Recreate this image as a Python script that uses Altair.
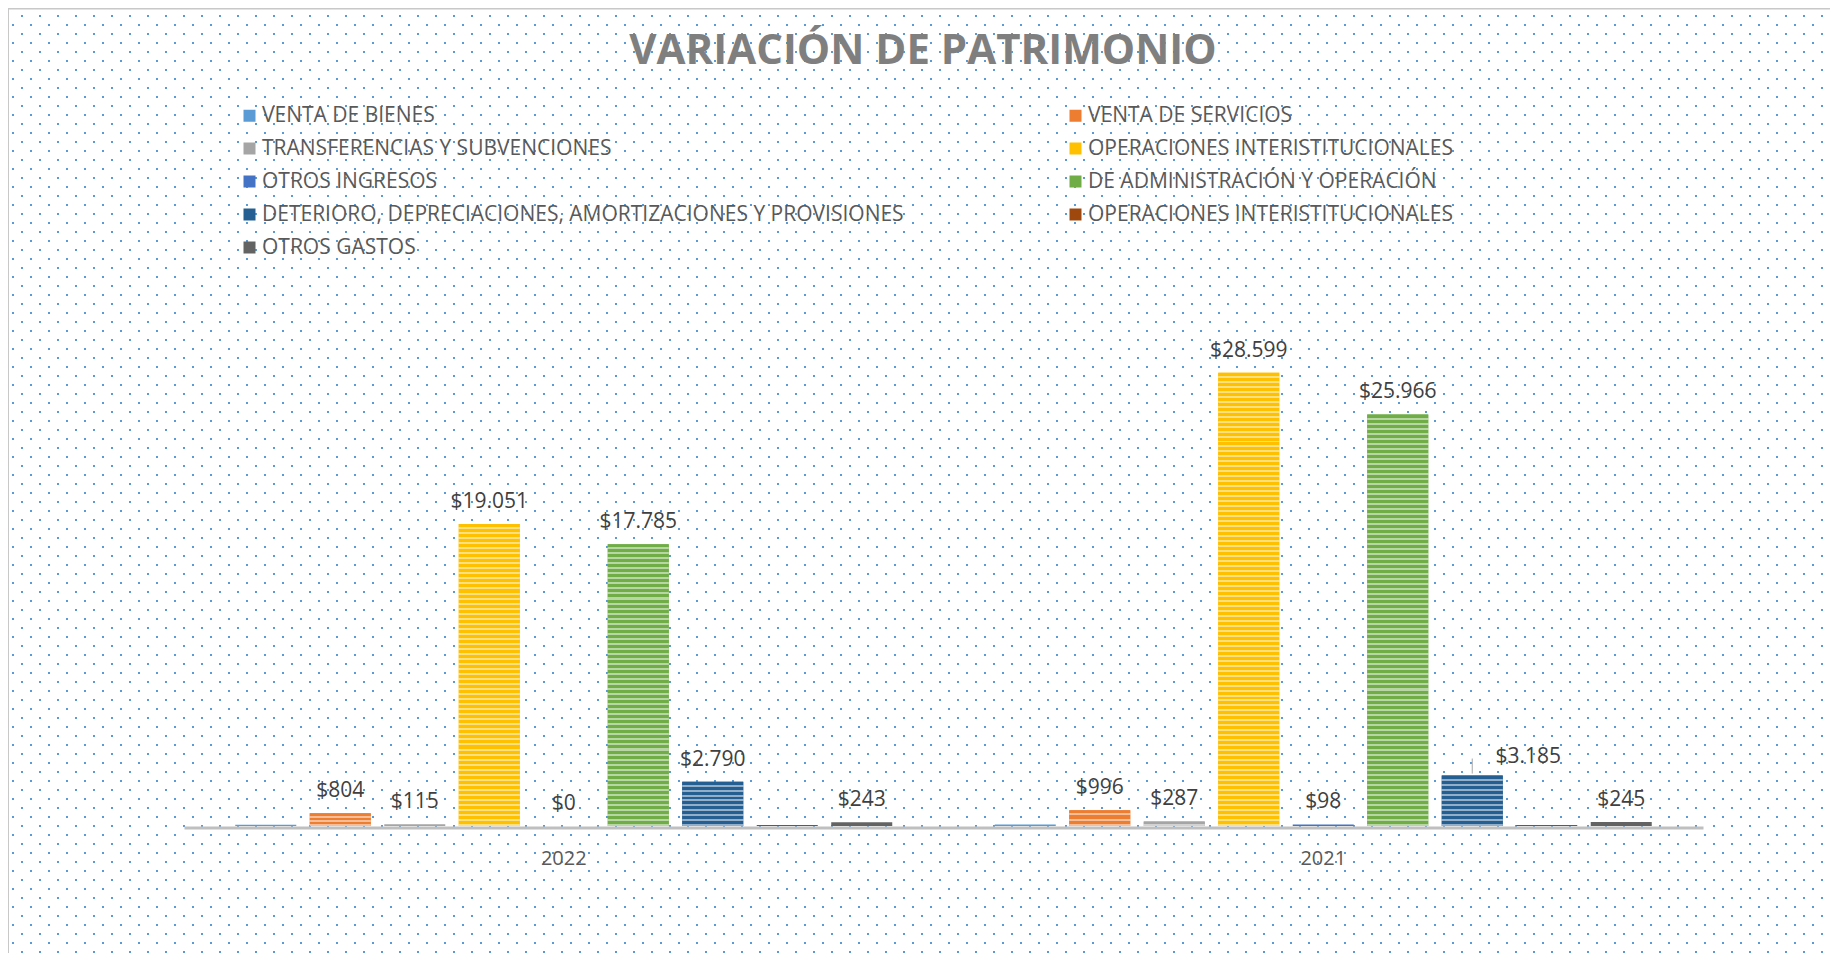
import altair as alt
import pandas as pd

# ---------------- data ----------------
years = ["2022", "2021"]
series = [
    "VENTA DE BIENES",
    "VENTA DE SERVICIOS",
    "TRANSFERENCIAS Y SUBVENCIONES",
    "OPERACIONES INTERISTITUCIONALES",
    "OTROS INGRESOS",
    "DE ADMINISTRACIÓN Y OPERACIÓN",
    "DETERIORO, DEPRECIACIONES, AMORTIZACIONES Y PROVISIONES",
    "OPERACIONES INTERISTITUCIONALES ",
    "OTROS GASTOS",
]
values_2022 = [85, 804, 115, 19051, 0, 17785, 2790, 70, 243]
values_2021 = [90, 996, 287, 28599, 98, 25966, 3185, 60, 245]
show_label = [False, True, True, True, True, True, True, False, True]
colors = ["#5B9BD5", "#ED7D31", "#A5A5A5", "#FFC000", "#4472C4",
          "#70AD47", "#255E91", "#9E480E", "#636363"]
title_text = "VARIACIÓN DE PATRIMONIO"

rows = []
for yr, vals in zip(years, [values_2022, values_2021]):
    for s, v, sl in zip(series, vals, show_label):
        rows.append({"year": yr, "series": s, "value": v,
                     "label": ("$" + f"{v:,}".replace(",", ".")) if sl else ""})
df = pd.DataFrame(rows)

W, H = 1822, 945
FONT = "Open Sans"
PX_PER_UNIT = 1 / 63.1          # vertical scale: pixels per value unit
Y0 = 818                        # pixel row of the zero line inside the view


def lighten(hex_color, t):
    r, g, b = (int(hex_color[i:i + 2], 16) for i in (1, 3, 5))
    r, g, b = (round(c + (255 - c) * t) for c in (r, g, b))
    return f"#{r:02x}{g:02x}{b:02x}"


def striped(base, height_px, pitch=5.0):
    light = lighten(base, 0.5)
    n = max(1, round(height_px / pitch))
    stops = []
    for i in range(n):
        a, b, c = i / n, (i + 0.6) / n, (i + 1) / n
        stops += [(a, base), (b, base), (b, light), (c, light)]
    return alt.LinearGradient(
        gradient="linear", x1=0, y1=0, x2=0, y2=1,
        stops=[alt.GradientStop(offset=o, color=col) for o, col in stops])


# ---------------- dotted background (axis grid) ----------------
bg_data = alt.Data(values=[{"u": 100, "v": 100}])
bg = alt.Chart(bg_data).mark_point(opacity=0, size=1).encode(
    x=alt.X("u:Q", scale=alt.Scale(domain=[0, W], range=[0, W], nice=False, zero=False),
            axis=alt.Axis(orient="top", labels=False, ticks=False, grid=False, title=None,
                          domain=True, domainColor="#C8C8C8", domainWidth=2)),
    y=alt.Y("v:Q", scale=alt.Scale(domain=[0, H], range=[0, H], nice=False, zero=False),
            axis=alt.Axis(orient="left", values=[8 + 9 * m for m in range(0, 105)],
                          labels=False, ticks=False, title=None,
                          domain=True, domainColor="#C8C8C8", domainWidth=2,
                          grid=True, gridColor="#5B9BD5", gridWidth=2, gridDash=[2, 16],
                          gridDashOffset={"condition": {"test": "datum.value % 18 == 8", "value": 5},
                                          "value": 14},
                          translate=0)),
)

title = alt.Chart(bg_data).mark_text(
    font=FONT, fontSize=42, fontWeight="bold", color="#7F7F7F",
    align="center", baseline="alphabetic"
).encode(x=alt.value(915), y=alt.value(56), text=alt.value(title_text))

# ---------------- bars ----------------
x_enc = alt.X("year:N", sort=years,
              scale=alt.Scale(range=[176, 1695], paddingInner=0, paddingOuter=0),
              axis=alt.Axis(orient="bottom", offset=-125.5, title=None, ticks=False,
                            domain=True, domainColor="#BFBFBF", domainWidth=3,
                            labelAngle=0, labelFont=FONT, labelFontSize=20,
                            labelColor="#595959", labelPadding=21, grid=False))
xo_enc = alt.XOffset("series:N", sort=series,
                     scale=alt.Scale(paddingInner=0.181, paddingOuter=0.688))
y_scale = alt.Scale(domain=[0, 30000], range=[Y0, Y0 - 30000 * PX_PER_UNIT], nice=False, zero=True)

bars = alt.Chart(df).mark_bar().encode(
    x=x_enc,
    xOffset=xo_enc,
    y=alt.Y("value:Q", scale=y_scale, axis=None),
    color=alt.Color("series:N", sort=series,
                    scale=alt.Scale(domain=series, range=colors),
                    legend=alt.Legend(orient="none", legendX=231, legendY=97, columns=2,
                                      direction="horizontal",
                                      title=None, symbolType="square", symbolSize=144,
                                      symbolStrokeWidth=0, labelFont=FONT, labelFontSize=21,
                                      labelColor="#595959", labelLimit=2000,
                                      columnPadding=161, rowPadding=11, padding=0,
                                      labelOffset=2)),
)

# striped overlays, one per bar (fill texture only)
stripe_layers = []
for yr, vals in zip(years, [values_2022, values_2021]):
    for s, v, col in zip(series, vals, colors):
        h = v * PX_PER_UNIT
        if h < 4:
            continue
        stripe_layers.append(
            alt.Chart(df).transform_filter(
                (alt.datum.year == yr) & (alt.datum.series == s)
            ).mark_bar(fill=striped(col, h)).encode(
                x=alt.X("year:N", sort=years), xOffset=alt.XOffset("series:N", sort=series),
                y=alt.Y("value:Q"),
            )
        )

special = (alt.datum.year == "2021") & (alt.datum.series == series[6])

labels = alt.Chart(df).transform_filter(
    (alt.datum.label != "") & ~special
).mark_text(font=FONT, fontSize=21, color="#404040", baseline="alphabetic", dy=-16).encode(
    x=alt.X("year:N", sort=years), xOffset=alt.XOffset("series:N", sort=series),
    y=alt.Y("value:Q"), text="label:N",
)

label_special = alt.Chart(df).transform_filter(special).mark_text(
    font=FONT, fontSize=21, color="#404040", baseline="alphabetic", dy=-13, dx=56
).encode(
    x=alt.X("year:N", sort=years), xOffset=alt.XOffset("series:N", sort=series),
    y=alt.Y("value:Q"), text="label:N",
)

leader = alt.Chart(df).transform_filter(special).mark_rule(
    color="#A6A6A6", strokeWidth=1, yOffset=-2, y2Offset=-17
).encode(
    x=alt.X("year:N", sort=years), xOffset=alt.XOffset("series:N", sort=series),
    y=alt.Y("value:Q"), y2=alt.Y2("value"),
)

front = alt.layer(bars, *stripe_layers, labels, label_special, leader)

chart = alt.layer(alt.layer(bg, title), front).resolve_scale(
    x="independent", y="independent"
).properties(
    width=W, height=H, padding=0,
).configure_view(stroke=None)

chart.save("out.html", embed_options={"renderer": "svg", "actions": False})
